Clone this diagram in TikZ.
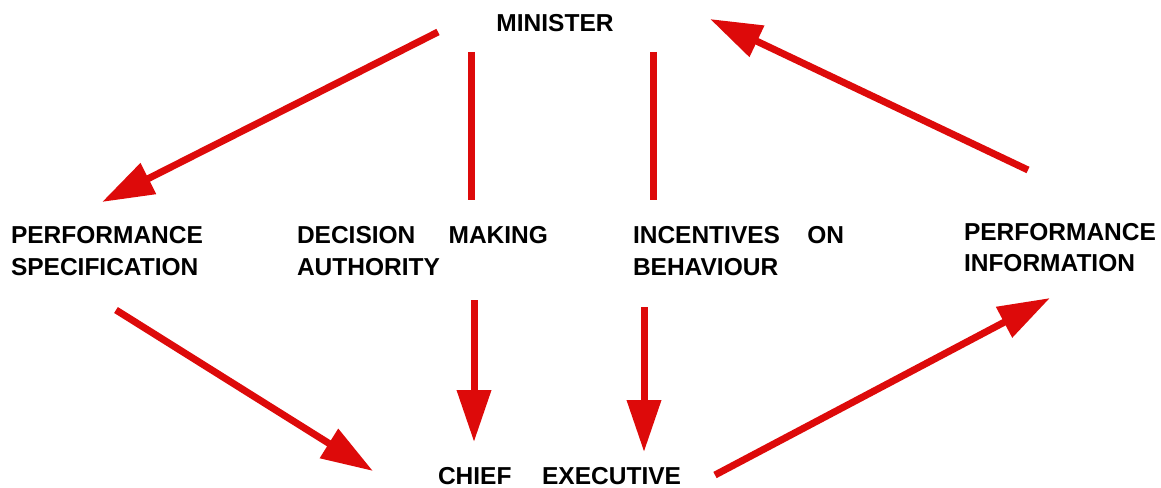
\documentclass[tikz,border=0pt]{standalone}
\usepackage{fontspec}
\setmainfont{Liberation Sans}
\usetikzlibrary{arrows.meta}
\definecolor{flowred}{HTML}{DD0A0A}
\begin{document}
\begin{tikzpicture}[x=1pt,y=-1pt,
  label/.style={inner sep=0pt,outer sep=0pt,font=\fontsize{24.5}{30}\selectfont\bfseries},
  flow/.style={draw=flowred,line width=7pt},
  flowarrow/.style={flow,-{Triangle[length=52pt,width=33pt]}}]
\useasboundingbox (0,0) rectangle (1161,487);

% labels
\node[label,anchor=base] (minister) at (555,32) {MINISTER};
\node[label,anchor=base west] (spec1) at (11,243) {PERFORMANCE};
\node[label,anchor=base west] (spec2) at (11,275) {SPECIFICATION};
\node[label,anchor=base west] (dec1) at (297,243) {\makebox[251pt][s]{DECISION\hfill MAKING}};
\node[label,anchor=base west] (dec2) at (297,275) {AUTHORITY};
\node[label,anchor=base west] (inc1) at (633,243) {\makebox[211pt][s]{INCENTIVES\hfill ON}};
\node[label,anchor=base west] (inc2) at (633,275) {BEHAVIOUR};
\node[label,anchor=base west] (info1) at (964,240) {PERFORMANCE};
\node[label,anchor=base west] (info2) at (964,271) {INFORMATION};
\node[label,anchor=base west] (chief) at (438,484) {\makebox[243pt][s]{CHIEF\hfill EXECUTIVE}};

% connector end points
\coordinate (m-spec-s) at (438,32);
\coordinate (m-spec-e) at (102,202);
\coordinate (m-dec-s) at (471,52);
\coordinate (m-dec-e) at (471,200);
\coordinate (m-inc-s) at (653,52);
\coordinate (m-inc-e) at (653,200);
\coordinate (dec-ce-s) at (474,300);
\coordinate (dec-ce-e) at (474,442);
\coordinate (inc-ce-s) at (644,307);
\coordinate (inc-ce-e) at (644,452);
\coordinate (spec-ce-s) at (116,310);
\coordinate (spec-ce-e) at (373,471);
\coordinate (ce-info-s) at (715,475);
\coordinate (ce-info-e) at (1050,298);
\coordinate (info-m-s) at (1028,170);
\coordinate (info-m-e) at (710,19);

% connectors
\draw[flowarrow] (m-spec-s) -- (m-spec-e);
\draw[flow] (m-dec-s) -- (m-dec-e);
\draw[flow] (m-inc-s) -- (m-inc-e);
\draw[flowarrow] (dec-ce-s) -- (dec-ce-e);
\draw[flowarrow] (inc-ce-s) -- (inc-ce-e);
\draw[flowarrow] (spec-ce-s) -- (spec-ce-e);
\draw[flowarrow] (ce-info-s) -- (ce-info-e);
\draw[flowarrow] (info-m-s) -- (info-m-e);
\end{tikzpicture}
\end{document}
